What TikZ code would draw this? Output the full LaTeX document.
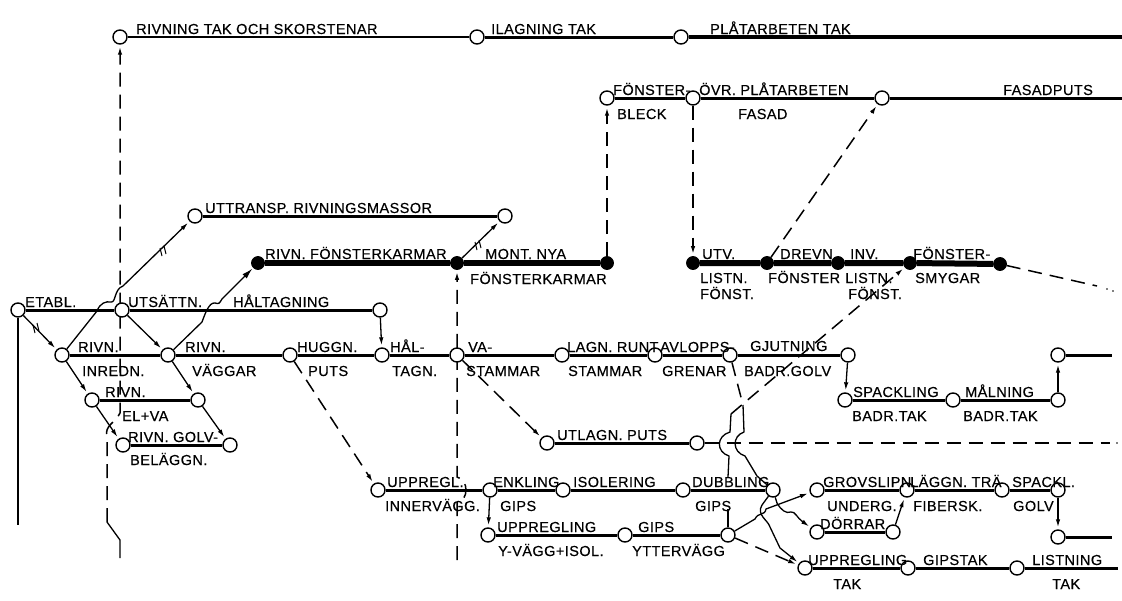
\documentclass[tikz,border=0pt]{standalone}
\usepackage{fontspec}
\setmainfont{Liberation Sans}[LetterSpace=3,FakeBold=0.4]
\usetikzlibrary{arrows.meta}
\pgfdeclarelayer{bg}
\pgfsetlayers{bg,main}
% activity text: name, x, baseline y, text
\newcommand\actlabel[4]{\node[lbl] (#1) at (#2,#3) {#4};}
% two short strokes across a line
\newcommand\ticks[2]{\draw[line width=1pt] (#1-3,#2-2) -- (#1-1,#2+6) (#1+1,#2-4) -- (#1+3,#2+4);}
\begin{document}
\begin{tikzpicture}[x=1pt,y=-1pt,
  ev/.style={circle,draw,line width=1.4pt,fill=white,inner sep=0pt,minimum size=14pt},
  evk/.style={circle,draw,fill=black,line width=0.8pt,inner sep=0pt,minimum size=13pt},
  act/.style={line width=3pt},
  crit/.style={line width=6pt},
  dep/.style={line width=1.3pt},
  ddep/.style={line width=1.5pt,dash pattern=on 14pt off 8pt},
  arr/.style={-{Latex[length=8pt,width=4.5pt]},shorten >=2pt},
  lbl/.style={font=\fontsize{14.5}{16}\selectfont,anchor=base west,inner sep=0pt},
]
\useasboundingbox (0,0) rectangle (1122,600);

% ---------- events ----------
\node[ev] (t1) at (120,37) {};
\node[ev] (t2) at (477,37) {};
\node[ev] (t3) at (681,37) {};
\coordinate (te) at (1122,37);

\node[ev] (fb) at (607,98) {};
\node[ev] (ov) at (693,98) {};
\node[ev] (fa) at (882,98) {};
\coordinate (fe) at (1122,98);

\node[ev] (ut1) at (195,216) {};
\node[ev] (ut2) at (505,216) {};

\node[evk] (k1) at (258,263) {};
\node[evk] (k2) at (457,263) {};
\node[evk] (k3) at (607,263) {};
\node[evk] (k4) at (693,263) {};
\node[evk] (k5) at (767,263) {};
\node[evk] (k6) at (838,263) {};
\node[evk] (k7) at (910,263) {};
\node[evk] (k8) at (1000,264) {};

\node[ev] (et) at (18,310) {};
\node[ev] (us) at (122,310) {};
\node[ev] (ha) at (380,310) {};

\node[ev] (ri) at (62,355) {};
\node[ev] (rv) at (168,355) {};
\node[ev] (hu) at (290,355) {};
\node[ev] (hl) at (382,355) {};
\node[ev] (va) at (457,355) {};
\node[ev] (la) at (562,355) {};
\node[ev] (av) at (655,355) {};
\node[ev] (gj) at (730,355) {};
\node[ev] (ge) at (848,355) {};
\node[ev] (r2) at (1058,355) {};
\coordinate (r2e) at (1112,355);

\node[ev] (el1) at (92,400) {};
\node[ev] (el2) at (198,400) {};
\node[ev] (sp1) at (845,400) {};
\node[ev] (sp2) at (953,400) {};
\node[ev] (sp3) at (1058,400) {};

\node[ev] (up1) at (547,443) {};
\node[ev] (up2) at (697,443) {};
\coordinate (upe) at (1110,443);
\node[ev] (go1) at (123,445) {};
\node[ev] (go2) at (230,445) {};

\node[ev] (ui1) at (378,490) {};
\node[ev] (en) at (490,490) {};
\node[ev] (is) at (563,490) {};
\node[ev] (du1) at (683,490) {};
\node[ev] (du2) at (773,490) {};
\node[ev] (gr1) at (817,490) {};
\node[ev] (gr2) at (907,490) {};
\node[ev] (gr3) at (1002,490) {};
\node[ev] (gr4) at (1058,490) {};

\node[ev] (yv1) at (488,535) {};
\node[ev] (yv2) at (625,535) {};
\node[ev] (yv3) at (728,535) {};
\node[ev] (dr1) at (817,532) {};
\node[ev] (dr2) at (893,532) {};
\node[ev] (sg) at (1058,537) {};
\coordinate (sge) at (1112,537);

\node[ev] (ta1) at (805,568) {};
\node[ev] (ta2) at (908,568) {};
\node[ev] (ta3) at (1017,568) {};
\coordinate (tae) at (1118,568);

% ---------- activity texts ----------
\actlabel{a1}{136}{34}{RIVNING TAK OCH SKORSTENAR}
\actlabel{a2}{491}{34}{ILAGNING TAK}
\actlabel{a3}{710}{34}{PLÅTARBETEN TAK}

\actlabel{b1}{613}{95}{FÖNSTER-}
\actlabel{b2}{617}{119}{BLECK}
\actlabel{b3}{699}{95}{ÖVR. PLÅTARBETEN}
\actlabel{b4}{738}{119}{FASAD}
\actlabel{b5}{1003}{95}{FASADPUTS}

\actlabel{c1}{205}{213}{UTTRANSP. RIVNINGSMASSOR}

\actlabel{d1}{265}{259}{RIVN. FÖNSTERKARMAR}
\actlabel{d2}{485}{259}{MONT. NYA}
\actlabel{d3}{470}{284}{FÖNSTERKARMAR}
\actlabel{d4}{702}{259}{UTV.}
\actlabel{d5}{700}{283}{LISTN.}
\actlabel{d6}{700}{299}{FÖNST.}
\actlabel{d7}{780}{259}{DREVN.}
\actlabel{d8}{768}{283}{FÖNSTER}
\actlabel{d9}{850}{259}{INV.}
\actlabel{d10}{845}{283}{LISTN.}
\actlabel{d11}{848}{299}{FÖNST.}
\actlabel{d12}{913}{259}{FÖNSTER-}
\actlabel{d13}{915}{283}{SMYGAR}

\actlabel{e1}{25}{307}{ETABL.}
\actlabel{e2}{128}{307}{UTSÄTTN.}
\actlabel{e3}{233}{307}{HÅLTAGNING}

\actlabel{f1}{78}{352}{RIVN.}
\actlabel{f2}{82}{376}{INREDN.}
\actlabel{f3}{185}{352}{RIVN.}
\actlabel{f4}{192}{376}{VÄGGAR}
\actlabel{f5}{297}{352}{HUGGN.}
\actlabel{f6}{308}{376}{PUTS}
\actlabel{f7}{390}{352}{HÅL-}
\actlabel{f8}{392}{376}{TAGN.}
\actlabel{f9}{468}{352}{VA-}
\actlabel{f10}{466}{376}{STAMMAR}
\actlabel{f11}{567}{352}{LAGN. RUNT}
\actlabel{f12}{568}{376}{STAMMAR}
\actlabel{f13}{660}{352}{AVLOPPS-}
\actlabel{f14}{662}{376}{GRENAR}
\actlabel{f15}{750}{351}{GJUTNING}
\actlabel{f16}{744}{376}{BADR.GOLV}

\actlabel{g1}{105}{397}{RIVN.}
\actlabel{g2}{122}{421}{EL+VA}
\actlabel{g3}{853}{397}{SPACKLING}
\actlabel{g4}{852}{421}{BADR.TAK}
\actlabel{g5}{965}{397}{MÅLNING}
\actlabel{g6}{963}{421}{BADR.TAK}

\actlabel{h1}{557}{440}{UTLAGN. PUTS}
\actlabel{h2}{128}{442}{RIVN. GOLV-}
\actlabel{h3}{130}{465}{BELÄGGN.}

\actlabel{i1}{387}{487}{UPPREGL.}
\actlabel{i2}{385}{511}{INNERVÄGG.}
\actlabel{i3}{493}{487}{ENKLING}
\actlabel{i4}{500}{511}{GIPS}
\actlabel{i5}{573}{487}{ISOLERING}
\actlabel{i6}{692}{487}{DUBBLING}
\actlabel{i7}{695}{511}{GIPS}
\actlabel{i8}{823}{487}{GROVSLIPN.}
\actlabel{i9}{827}{511}{UNDERG.}
\actlabel{i10}{910}{487}{LÄGGN. TRÄ}
\actlabel{i11}{913}{511}{FIBERSK.}
\actlabel{i12}{1012}{487}{SPACKL.}
\actlabel{i13}{1013}{511}{GOLV}

\actlabel{j1}{497}{532}{UPPREGLING}
\actlabel{j2}{498}{556}{Y-VÄGG+ISOL.}
\actlabel{j3}{638}{532}{GIPS}
\actlabel{j4}{632}{556}{YTTERVÄGG}
\actlabel{j5}{820}{529}{DÖRRAR}

\actlabel{m1}{808}{565}{UPPREGLING}
\actlabel{m2}{833}{589}{TAK}
\actlabel{m3}{923}{565}{GIPSTAK}
\actlabel{m4}{1032}{565}{LISTNING}
\actlabel{m5}{1052}{589}{TAK}

\begin{pgfonlayer}{bg}
% ---------- activities ----------
\draw[line width=1.8pt] (t1) -- (t2);
\draw[act] (t2) -- (t3);
\draw[line width=3.4pt] (t3) -- (te);
\draw[act] (fb) -- (ov) -- (fa) -- (fe);
\draw[act] (ut1) -- (ut2);
\draw[crit] (k1) -- (k2) -- (k3);
\draw[crit] (k4) -- (k5) -- (k6) -- (k7) -- (k8);
\draw[act] (et) -- (us) -- (ha);
\draw[act] (ri) -- (rv) -- (hu) -- (hl) -- (va) -- (la) -- (av) -- (gj) -- (ge);
\draw[act] (r2) -- (r2e);
\draw[act] (el1) -- (el2);
\draw[act] (sp1) -- (sp2) -- (sp3);
\draw[act] (up1) -- (up2);
\draw[act] (go1) -- (go2);
\draw[act] (ui1) -- (en) -- (is) -- (du1) -- (du2);
\draw[act] (gr1) -- (gr2) -- (gr3) -- (gr4);
\draw[act] (yv1) -- (yv2) -- (yv3);
\draw[act] (dr1) -- (dr2);
\draw[act] (sg) -- (sge);
\draw[act] (ta1) -- (ta2) -- (ta3) -- (tae);

% ---------- dependencies, left part ----------
\draw[dep,arr] (et) -- (ri);
\ticks{36}{327}
\draw[dep] (et) -- (18,525);
\draw[dep,arr] (ri) -- (97,311) .. controls (100,303) and (106,301) .. (111,302)
  .. controls (116,303) and (114,289) .. (123,286) -- (ut1);
\ticks{163}{250}
\draw[dep,arr] (us) -- (rv);
\draw[dep,-{Latex[length=11pt,width=6pt]},shorten >=1pt] (rv) -- (202,322)
  .. controls (205,314) and (209,302) .. (215,303) .. controls (219,304) .. (222,299) -- (k1);
\draw[dep,arr] (ri) -- (el1);
\draw[dep,arr] (rv) -- (el2);
\draw[dep,arr] (el2) -- (go2);
\draw[dep,arr] (el1) -- (go1);
\draw[dep] (120,558) -- (120,540) -- (107,522);
\draw[ddep,arr] (107,522) -- (107,436) .. controls (104,426) and (116,422) .. (120,413) -- (t1);

% ---------- dependencies, middle part ----------
\draw[dep,arr] (ha) -- (hl);
\draw[dep,arr] (k2) -- (ut2);
\ticks{478}{244}
\draw[ddep,arr] (hu) -- (ui1);
\draw[ddep,arr] (va) -- (up1);
\draw[ddep,arr] (457,560) -- (457,503) .. controls (469,500) and (469,480) .. (457,477)
  -- (va.center) -- (k2);
\draw[ddep,arr] (k3) -- (fb);
\draw[ddep,arr] (ov) -- (k4);
\draw[ddep,arr] (k5) -- (fa);
\draw[dep,arr] (en) -- (yv1);

% ---------- dependencies, right part ----------
\draw[ddep] (k8) -- (1097,286);
\fill (1107,289) circle (0.8pt) (1113,291) circle (0.8pt);
\draw[dep,arr] (ge) -- (sp1);
\draw[dep,arr] (sp3) -- (r2);
\draw[dep,arr] (gr4) -- (sg);
\draw[dep,arr] (dr2) -- (gr2);
\draw[ddep] (up2) -- (upe);
\fill (1117,443) circle (0.8pt);
% from outer wall to window reveals
\draw[dep] (yv3) -- (728,509);
\draw[dep] (728,477) -- (729,456) .. controls (716,452) and (716,436) .. (730,432) -- (731,414);
\draw[ddep,arr] (731,414) -- (k7);
% from drain branches down to double boarding
\draw[ddep] (gj) -- (743,405);
\draw[dep] (743,405) -- (744,432) .. controls (732,436) and (732,452) .. (745,456) -- (757,476) -- (du2);
% outgoing from double boarding and outer wall
\draw[dep,arr] (du2) -- (777,503) .. controls (781,510) and (786,514) .. (791,512)
  .. controls (795,511) and (797,518) .. (803,522) -- (dr1);
\draw[dep,arr] (du2) -- (762,505) .. controls (756,515) and (768,520) .. (770,527) -- (780,548) -- (ta1);
\draw[dep,arr] (yv3) -- (755,519) .. controls (758,512) and (765,516) .. (766,509) -- (gr1);
\draw[ddep,arr] (yv3) -- (ta1);
\end{pgfonlayer}
\end{tikzpicture}
\end{document}
